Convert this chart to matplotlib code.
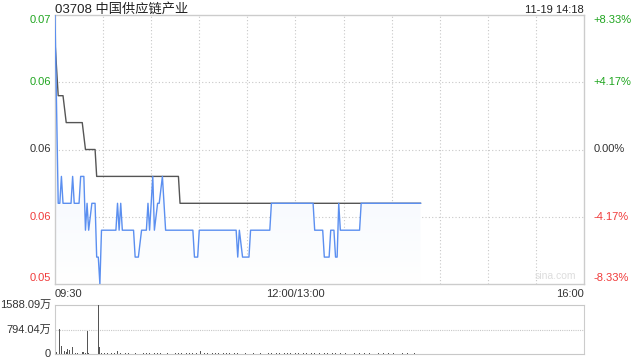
import matplotlib.pyplot as plt
import numpy as np
from matplotlib.colors import LinearSegmentedColormap

plt.rcParams['font.family'] = ['Liberation Sans', 'Noto Sans CJK SC', 'DejaVu Sans']

# trading minutes since 09:30 (lunch break removed, 330 = 16:00)
title = "03708 中国供应链产业"
stamp = "11-19 14:18"
prev_close = 0.06

price_min = [0, 2, 3, 4, 5, 10, 11, 12, 15, 16, 18, 19, 20, 21, 23, 25, 26, 27, 28, 29,
             38, 39, 40, 41, 42, 49, 50, 52, 54, 57, 58, 59, 61, 62, 64, 65, 67, 69,
             86, 87, 89, 90, 113, 114, 115, 117, 121, 122, 134, 135, 161, 162, 167, 168,
             171, 172, 174, 175, 176, 177, 178, 190, 191, 228]
price = [0.065, 0.058, 0.058, 0.059, 0.058, 0.058, 0.059, 0.058, 0.058, 0.059, 0.059, 0.057,
         0.058, 0.057, 0.058, 0.058, 0.056, 0.056, 0.055, 0.057,
         0.057, 0.058, 0.057, 0.058, 0.057, 0.057, 0.056, 0.056, 0.057, 0.057, 0.058, 0.057,
         0.059, 0.057, 0.058, 0.058, 0.059, 0.057,
         0.057, 0.056, 0.056, 0.057, 0.057, 0.056, 0.057, 0.056, 0.056, 0.057, 0.057, 0.058,
         0.058, 0.057, 0.057, 0.056, 0.056, 0.057, 0.057, 0.056, 0.056, 0.058, 0.057,
         0.057, 0.058, 0.058]

avg_min = [0, 2, 5, 7, 17, 19, 25, 26, 77, 78, 228]
avg_price = [0.064, 0.062, 0.062, 0.061, 0.061, 0.060, 0.060, 0.059, 0.059, 0.058, 0.058]

vol_min = [0, 1, 3, 4, 5, 6, 7, 8, 9, 10, 11, 13, 14, 17, 18, 19, 20, 21, 27, 28,
           29, 31, 33, 35, 37, 39, 41, 44, 46, 48, 50, 53, 55, 57, 59, 62, 64, 66,
           68, 70, 73, 75, 77, 79, 82, 84, 86, 88, 91, 93, 95, 98, 100, 102, 105,
           107, 109, 112, 114, 116, 119, 121, 124, 126, 128, 131, 133, 135, 138, 140,
           143, 145, 147, 150, 152, 155, 157, 160, 162, 165, 168, 170, 173, 175, 178,
           181, 184, 187, 190, 193, 196, 199, 202, 205, 208, 211, 214, 217, 220, 224]
vol = [300, 60, 805, 250, 110, 85, 65, 170, 130, 500, 215, 45, 25, 65, 60, 30, 730, 25, 1588, 215,
       20, 25, 20, 30, 20, 90, 20, 25, 20, 30, 25, 20, 35, 25, 30, 20, 25, 40,
       25, 30, 20, 45, 25, 30, 20, 25, 30, 20, 90, 25, 20, 30, 25, 35, 20,
       25, 30, 40, 25, 30, 20, 25, 30, 45, 20, 25, 30, 20, 25, 30,
       25, 20, 30, 25, 20, 30, 25, 20, 30, 25, 20, 30, 25, 20, 30,
       25, 20, 30, 25, 20, 25, 30, 20, 25, 20, 25, 20, 25, 20, 25]  # 万

left_labels = ['0.07', '0.06', '0.06', '0.06', '0.05']
right_labels = ['+8.33%', '+4.17%', '0.00%', '-4.17%', '-8.33%']
label_colors = ['#1fa51f', '#1fa51f', '#333333', '#f03a3a', '#f03a3a']
vol_labels = ['1588.09万', '794.04万', '0']

grid_c, border_c = '#c8c8c8', '#cccccc'

fig = plt.figure(figsize=(6.4, 3.6), dpi=100)
ax = fig.add_axes([55/640, 1 - 284/360, 529/640, 269/360])
axv = fig.add_axes([55/640, 1 - 354/360, 529/640, 49/360])

lo, hi = 0.055, 0.065
ax.set_xlim(0, 330)
ax.set_ylim(lo, hi)
levels = np.linspace(hi, lo, 5)

for x in range(30, 330, 30):
    ax.axvline(x, color=grid_c, lw=0.8, ls=(0, (1, 2)), zorder=0)
for y in levels[1:-1]:
    ax.axhline(y, color=grid_c, lw=0.8, ls=(0, (1, 2)), zorder=0)

# gradient fill under price line
poly = ax.fill_between(price_min, price, lo, color='none', lw=0)
grad = np.linspace(1, 0, 256).reshape(-1, 1)
cmap = LinearSegmentedColormap.from_list('f', ['#ffffff', '#e6effc'])
im = ax.imshow(grad, cmap=cmap, aspect='auto', extent=[0, 330, lo, max(price)],
               origin='upper', zorder=1)
im.set_clip_path(poly.get_paths()[0], transform=ax.transData)

ax.plot(avg_min, avg_price, color='#555555', lw=1.0, zorder=3)
ax.plot(price_min, price, color='#5b8ff0', lw=1.0, zorder=4)

ax.set_xticks([])
ax.set_yticks([])
for s in ax.spines.values():
    s.set_color(border_c)
    s.set_linewidth(1.0)

# y labels both sides
px = (hi - lo) / 269
for i, y in enumerate(levels):
    off = -5 * px if i == 0 else (6 * px if i == 4 else 0)
    ax.text(-4 / 529 * 330, y + off, left_labels[i], ha='right', va='center',
            color=label_colors[i], fontsize=8)
    ax.text(336, y + off, right_labels[i], ha='left', va='center',
            color=label_colors[i], fontsize=8)

ax.text(0, 1 + 2 / 269, title, transform=ax.transAxes, ha='left', va='baseline',
        fontsize=9.5, color='#222222')
ax.text(1, 1 + 2 / 269, stamp, transform=ax.transAxes, ha='right', va='baseline',
        fontsize=8, color='#222222')
ax.text(0, -0.02, '09:30', transform=ax.transAxes, ha='left', va='top', fontsize=8, color='#333333')
ax.text(150 / 330, -0.02, '12:00/13:00', transform=ax.transAxes, ha='center', va='top',
        fontsize=8, color='#333333')
ax.text(1, -0.02, '16:00', transform=ax.transAxes, ha='right', va='top', fontsize=8, color='#333333')
ax.text(0.985, 0.01, 'sina.com', transform=ax.transAxes, ha='right', va='bottom',
        fontsize=7.5, color='#dddddd')

# volume
vmax = 1588.09
axv.set_xlim(0, 330)
axv.set_ylim(0, vmax)
axv.bar(vol_min, vol, width=0.55, color='#555555', zorder=3)
axv.axhline(vmax / 2, color=grid_c, lw=0.8, ls=(0, (1, 1)), zorder=0)
axv.set_xticks([])
axv.set_yticks([])
for k in ['left', 'right']:
    axv.spines[k].set_color(border_c)
for k in ['top', 'bottom']:
    axv.spines[k].set_color(grid_c)
    axv.spines[k].set_linestyle((0, (1, 1)))
    axv.spines[k].set_linewidth(0.8)
for i, y in enumerate([vmax, vmax / 2, 0]):
    axv.text(-4 / 529 * 330, y, vol_labels[i], ha='right', va='center',
             fontsize=8, color='#333333')

fig.savefig('out.png', dpi=100)
